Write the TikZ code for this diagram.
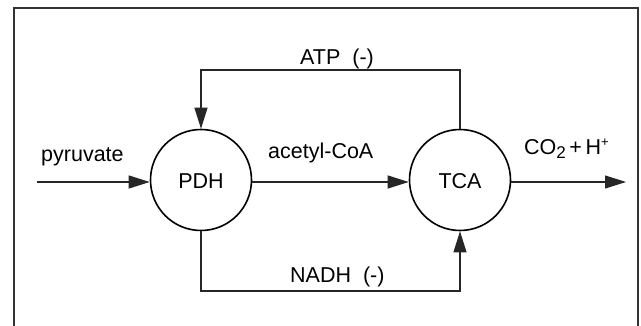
\documentclass[tikz,border=0pt]{standalone}
\usepackage{fontspec}
\setmainfont{Liberation Sans}
\usetikzlibrary{arrows.meta}
\begin{document}
\begin{tikzpicture}[x=1pt,y=-1pt,
  every node/.style={font=\fontsize{21.5}{25}\selectfont, inner sep=0pt},
  enzyme/.style={circle, draw, line width=1.6pt, minimum size=101pt},
  flow/.style={line width=1.1pt, black!85, -{Triangle[length=21pt,width=13pt]}},
  lbl/.style={anchor=base west}]
\useasboundingbox (0,0) rectangle (641,326);
\fill[white] (0,0) rectangle (641,326);
\draw[line width=2pt, black!80] (14,335) -- (14,8) -- (638,8) -- (638,335);
\node[enzyme] (pdh) at (201,180) {};
\node[enzyme] (tca) at (460,180) {};
\node[anchor=base] (pdhl) at (201,189) {PDH};
\node[anchor=base] (tcal) at (460,189) {TCA};
\coordinate (pyrstart) at (37,182);
\coordinate (outend) at (626,182);
\coordinate (atpy) at (0,70);
\coordinate (nadhy) at (0,291);
\draw[flow] (pyrstart) -- (pdh.west |- pyrstart);
\draw[flow] (pdh.east |- pyrstart) -- (tca.west |- pyrstart);
\draw[flow] (tca.east |- pyrstart) -- (outend);
\draw[flow] (tca.north) -- (tca.north |- atpy) -| (pdh.north);
\draw[flow] (pdh.south) -- (pdh.south |- nadhy) -| (tca.south);
\node[lbl] (atp) at (300,65) {ATP\ \ (-)};
\node[lbl] (pyr) at (41,162) {pyruvate};
\node[lbl] (acoa) at (268,159) {acetyl-CoA};
\node[lbl] (co2) at (524,155) {CO\raisebox{-4pt}{\fontsize{17}{17}\selectfont 2}\,+\,H\raisebox{8pt}{\fontsize{13}{13}\selectfont +}};
\node[lbl] (nadh) at (290,283) {NADH\ \ (-)};
\end{tikzpicture}
\end{document}
